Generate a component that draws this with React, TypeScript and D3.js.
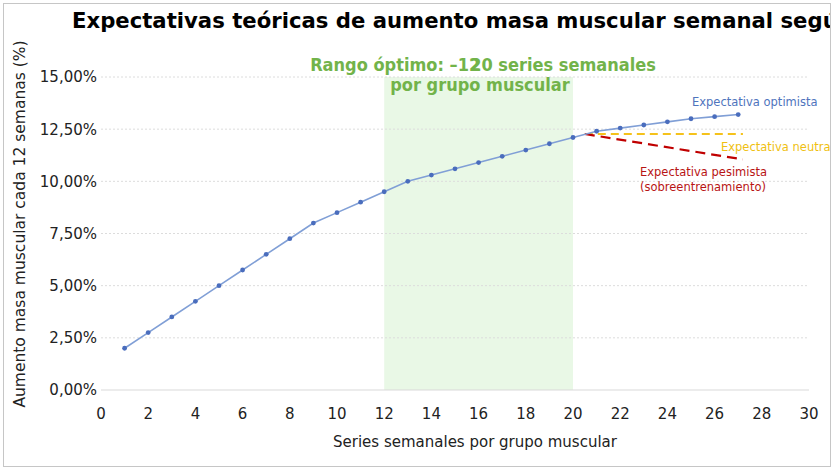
import React, { useEffect, useRef } from 'react'
import * as d3 from 'd3'

// series semanales (eje X) y aumento esperado (%)
const seriesSemanales = [1, 2, 3, 4, 5, 6, 7, 8, 9, 10, 11, 12, 13, 14, 15, 16, 17, 18, 19, 20, 21, 22, 23, 24, 25, 26, 27]
const optimista = [2.0, 2.75, 3.5, 4.25, 5.0, 5.75, 6.5, 7.25, 8.0, 8.5, 9.0, 9.5, 10.0, 10.3, 10.6, 10.9, 11.2, 11.5, 11.8, 12.1, 12.4, 12.55, 12.7, 12.85, 13.0, 13.1, 13.2]

const neutraX = [20.5, 27.2]
const neutraY = [12.27, 12.27]
const pesimistaX = [20.5, 27.2]
const pesimistaY = [12.27, 11.05]

const rangoOptimo = [12, 20]
const xTicks = [0, 2, 4, 6, 8, 10, 12, 14, 16, 18, 20, 22, 24, 26, 28, 30]
const yTicks = [0, 2.5, 5, 7.5, 10, 12.5, 15]

const FONT = 'DejaVu Sans, Verdana, sans-serif'

const App: React.FC = () => {
    const ref = useRef<SVGSVGElement | null>(null)

    useEffect(() => {
        if (!ref.current) return
        const width = 835
        const height = 471
        const svg = d3.select(ref.current)
        svg.selectAll('*').remove()
        svg.attr('width', width).attr('height', height)

        const x = d3.scaleLinear().domain([0, 30]).range([101, 809])
        const y = d3.scaleLinear().domain([0, 15]).range([390, 77])

        const es = d3.formatLocale({ decimal: ',', thousands: '.', grouping: [3], currency: ['', '€'] })
        const fmt = es.format('.2f')

        svg.append('rect').attr('width', width).attr('height', height).attr('fill', '#fff')

        svg.append('clipPath').attr('id', 'frame')
            .append('rect').attr('x', 3).attr('y', 3).attr('width', 827).attr('height', 463)

        const root = svg.append('g').attr('clip-path', 'url(#frame)')

        // banda del rango optimo
        root.append('rect')
            .attr('x', x(rangoOptimo[0]))
            .attr('y', y(15))
            .attr('width', x(rangoOptimo[1]) - x(rangoOptimo[0]))
            .attr('height', y(0) - y(15))
            .attr('fill', '#e9f8e6')

        // rejilla
        root.append('g')
            .selectAll('line')
            .data(yTicks)
            .join('line')
            .attr('x1', x(0))
            .attr('x2', x(30))
            .attr('y1', d => y(d))
            .attr('y2', d => y(d))
            .attr('stroke', d => d === 0 ? '#d9d9d9' : '#dcdcdc')
            .attr('stroke-dasharray', d => d === 0 ? null : '2,2')

        // etiquetas de ejes
        root.append('g')
            .selectAll('text')
            .data(yTicks)
            .join('text')
            .attr('x', 97)
            .attr('y', d => y(d))
            .attr('dy', '0.36em')
            .attr('text-anchor', 'end')
            .attr('font-family', FONT)
            .attr('font-size', 15)
            .attr('fill', '#222')
            .text(d => fmt(d) + '%')

        root.append('g')
            .selectAll('text')
            .data(xTicks)
            .join('text')
            .attr('x', d => x(d))
            .attr('y', 419)
            .attr('text-anchor', 'middle')
            .attr('font-family', FONT)
            .attr('font-size', 15)
            .attr('fill', '#222')
            .text(d => d)

        root.append('text')
            .attr('x', 475)
            .attr('y', 447)
            .attr('text-anchor', 'middle')
            .attr('font-family', FONT)
            .attr('font-size', 15)
            .attr('fill', '#222')
            .text('Series semanales por grupo muscular')

        root.append('text')
            .attr('transform', 'translate(25,224) rotate(-90)')
            .attr('text-anchor', 'middle')
            .attr('font-family', FONT)
            .attr('font-size', 15.5)
            .attr('fill', '#222')
            .text('Aumento masa muscular cada 12 semanas (%)')

        // titulo (cortado por el marco, como en el original)
        root.append('text')
            .attr('x', 72)
            .attr('y', 28)
            .attr('font-family', FONT)
            .attr('font-size', 21.2)
            .attr('font-weight', 'bold')
            .attr('fill', '#000')
            .text('Expectativas teóricas de aumento masa muscular semanal según series')

        // texto del rango optimo
        const green = root.append('text')
            .attr('x', 483)
            .attr('y', 71)
            .attr('text-anchor', 'middle')
            .attr('font-family', 'DejaVu Sans Condensed, DejaVu Sans, sans-serif')
            .attr('font-stretch', 'condensed')
            .attr('font-size', 18)
            .attr('font-weight', 'bold')
            .attr('fill', '#72b34a')
        green.append('tspan').text('Rango óptimo: –12')
        green.append('tspan').attr('dx', -10).text('20 series semanales')

        root.append('text')
            .attr('x', 480)
            .attr('y', 91)
            .attr('text-anchor', 'middle')
            .attr('font-family', 'DejaVu Sans Condensed, DejaVu Sans, sans-serif')
            .attr('font-stretch', 'condensed')
            .attr('font-size', 18)
            .attr('font-weight', 'bold')
            .attr('fill', '#72b34a')
            .text('por grupo muscular')

        // lineas discontinuas
        const seg = d3.line<[number, number]>().x(d => x(d[0])).y(d => y(d[1]))

        root.append('path')
            .datum(d3.zip(neutraX, neutraY) as [number, number][])
            .attr('d', seg)
            .attr('fill', 'none')
            .attr('stroke', '#f5c21b')
            .attr('stroke-width', 2)
            .attr('stroke-dasharray', '8,5')

        root.append('path')
            .datum(d3.zip(pesimistaX, pesimistaY) as [number, number][])
            .attr('d', seg)
            .attr('fill', 'none')
            .attr('stroke', '#c00000')
            .attr('stroke-width', 2.2)
            .attr('stroke-dasharray', '10,6')

        // serie optimista
        const pts = d3.zip(seriesSemanales, optimista) as [number, number][]
        root.append('path')
            .datum(pts)
            .attr('d', seg)
            .attr('fill', 'none')
            .attr('stroke', '#809fd6')
            .attr('stroke-width', 1.6)

        root.append('g')
            .selectAll('circle')
            .data(pts)
            .join('circle')
            .attr('cx', d => x(d[0]))
            .attr('cy', d => y(d[1]))
            .attr('r', 2.4)
            .attr('fill', '#4a6dbd')

        // leyendas
        const labels: [string, number, number, string][] = [
            ['Expectativa optimista', 692, 106, '#4f74bd'],
            ['Expectativa neutra', 721, 151, '#efbf12'],
            ['Expectativa pesimista', 640, 176, '#b81414'],
            ['(sobreentrenamiento)', 640, 191, '#b81414'],
        ]
        root.append('g')
            .selectAll('text')
            .data(labels)
            .join('text')
            .attr('x', d => d[1])
            .attr('y', d => d[2])
            .attr('font-family', FONT)
            .attr('font-size', 11.5)
            .attr('fill', d => d[3])
            .text(d => d[0])

        // marco
        svg.append('rect')
            .attr('x', 3.5)
            .attr('y', 3.5)
            .attr('width', 827)
            .attr('height', 463)
            .attr('fill', 'none')
            .attr('stroke', '#c6c6c6')
    }, [])

    return <svg ref={ref} style={{ position: 'absolute', left: 0, top: 0, display: 'block' }}></svg>
}

export default App
